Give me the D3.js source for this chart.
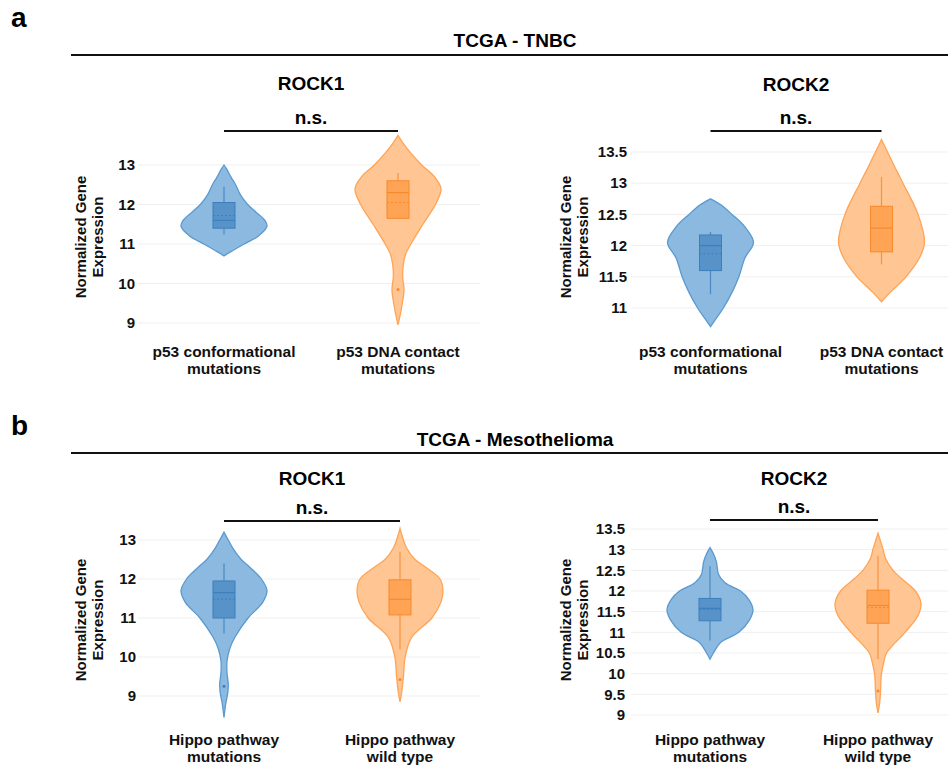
<!DOCTYPE html>
<html>
<head>
<meta charset="utf-8">
<script src="https://cdn.jsdelivr.net/npm/d3@7"></script>
<style>
  body { margin: 0; background: #fff; }
  svg { font-family: "Liberation Sans", Arial, sans-serif; font-weight: bold; }
</style>
</head>
<body>
<div id="chart"></div>
<script>
// categories (two-line labels)
const tnbcCategories = [['p53 conformational', 'mutations'], ['p53 DNA contact', 'mutations']];
const mesoCategories = [['Hippo pathway', 'mutations'], ['Hippo pathway', 'wild type']];

// y ticks
const tnbcRock1Ticks = [9, 10, 11, 12, 13];
const tnbcRock2Ticks = [11, 11.5, 12, 12.5, 13, 13.5];
const mesoRock1Ticks = [9, 10, 11, 12, 13];
const mesoRock2Ticks = [9, 9.5, 10, 10.5, 11, 11.5, 12, 12.5, 13, 13.5];

// violin outlines: [expression, relative density]
const tnbcRock1ConfDensity = [[10.7, 0], [10.8, 0.15], [11.0, 0.47], [11.2, 0.8], [11.45, 1.0], [11.6, 0.95], [11.8, 0.75], [12.0, 0.55], [12.25, 0.38], [12.5, 0.27], [12.7, 0.16], [12.9, 0.06], [13.0, 0]];
const tnbcRock1ContactDensity = [[8.95, 0], [9.2, 0.05], [9.5, 0.1], [9.85, 0.14], [10.15, 0.11], [10.45, 0.12], [10.75, 0.18], [11.0, 0.3], [11.5, 0.58], [12.0, 0.87], [12.4, 1.0], [12.7, 0.85], [13.0, 0.55], [13.3, 0.3], [13.55, 0.12], [13.75, 0]];
const tnbcRock2ConfDensity = [[10.7, 0], [10.85, 0.15], [11.0, 0.3], [11.25, 0.5], [11.5, 0.66], [11.8, 0.8], [12.05, 1.0], [12.3, 0.8], [12.5, 0.5], [12.65, 0.25], [12.75, 0]];
const tnbcRock2ContactDensity = [[11.1, 0], [11.25, 0.2], [11.5, 0.57], [11.8, 0.88], [12.05, 1.0], [12.5, 0.85], [13.0, 0.5], [13.3, 0.28], [13.5, 0.14], [13.7, 0]];
const mesoRock1MutDensity = [[8.45, 0], [8.8, 0.04], [9.1, 0.09], [9.3, 0.1], [9.6, 0.07], [9.9, 0.07], [10.2, 0.13], [10.5, 0.25], [11.0, 0.56], [11.4, 0.9], [11.7, 1.0], [12.0, 0.87], [12.3, 0.6], [12.5, 0.4], [12.8, 0.2], [13.0, 0.1], [13.2, 0]];
const mesoRock1WtDensity = [[8.85, 0], [9.1, 0.04], [9.5, 0.08], [10.0, 0.12], [10.5, 0.27], [11.0, 0.74], [11.4, 0.95], [11.7, 1.0], [12.0, 0.93], [12.3, 0.6], [12.5, 0.35], [12.8, 0.15], [13.0, 0.08], [13.3, 0]];
const mesoRock2MutDensity = [[10.35, 0], [10.5, 0.08], [10.75, 0.24], [11.0, 0.67], [11.3, 0.92], [11.55, 1.0], [11.8, 0.9], [12.0, 0.71], [12.2, 0.35], [12.4, 0.2], [12.7, 0.15], [12.9, 0.08], [13.05, 0]];
const mesoRock2WtDensity = [[9.05, 0], [9.3, 0.04], [9.6, 0.06], [10.0, 0.08], [10.3, 0.14], [10.5, 0.2], [11.0, 0.63], [11.4, 0.93], [11.7, 1.0], [12.0, 0.87], [12.3, 0.55], [12.5, 0.35], [12.8, 0.17], [13.0, 0.12], [13.2, 0.06], [13.4, 0]];

// box stats: [lower whisker, q1, median, q3, upper whisker, mean, outlier]
const tnbcRock1ConfBox = [11.25, 11.4, 11.6, 12.05, 12.45, 11.72, null];
const tnbcRock1ContactBox = [11.65, 11.65, 12.3, 12.6, 12.8, 12.05, 9.85];
const tnbcRock2ConfBox = [11.22, 11.6, 12.0, 12.17, 12.22, 11.87, null];
const tnbcRock2ContactBox = [11.7, 11.9, 12.28, 12.63, 13.1, 12.28, null];
const mesoRock1MutBox = [10.6, 11.0, 11.65, 11.95, 12.4, 11.48, 9.25];
const mesoRock1WtBox = [10.2, 11.08, 11.48, 11.98, 12.7, 11.48, 9.42];
const mesoRock2MutBox = [10.8, 11.28, 11.58, 11.82, 12.6, 11.55, null];
const mesoRock2WtBox = [10.35, 11.22, 11.65, 12.02, 12.85, 11.6, 9.58];

const colors = [
  { fill: '#8cb9df', stroke: '#5a9ad0', box: '#5793c9', boxStroke: '#3d7fbd' },
  { fill: '#ffc592', stroke: '#ffa456', box: '#ffa355', boxStroke: '#f58a2e' }
];

const charts = [
  { gene: 'ROCK1', cats: tnbcCategories, ticks: tnbcRock1Ticks, dens: [tnbcRock1ConfDensity, tnbcRock1ContactDensity], box: [tnbcRock1ConfBox, tnbcRock1ContactBox],
    band: [137, 485], yPix: [323, 165], grid: [138, 480], tickX: 135, ylabX: [86, 103], ylabY: 237, titleY: 90, nsY: 131, labY: 357 },
  { gene: 'ROCK2', cats: tnbcCategories, ticks: tnbcRock2Ticks, dens: [tnbcRock2ConfDensity, tnbcRock2ContactDensity], box: [tnbcRock2ConfBox, tnbcRock2ContactBox],
    band: [625, 967], yPix: [308, 152], grid: [631, 948], tickX: 627, ylabX: [571, 588], ylabY: 237, titleY: 91, nsY: 131, labY: 357 },
  { gene: 'ROCK1', cats: mesoCategories, ticks: mesoRock1Ticks, dens: [mesoRock1MutDensity, mesoRock1WtDensity], box: [mesoRock1MutBox, mesoRock1WtBox],
    band: [136, 488], yPix: [696, 540], grid: [138, 480], tickX: 136, ylabX: [86, 103], ylabY: 620, titleY: 485, nsY: 521, labY: 745 },
  { gene: 'ROCK2', cats: mesoCategories, ticks: mesoRock2Ticks, dens: [mesoRock2MutDensity, mesoRock2WtDensity], box: [mesoRock2MutBox, mesoRock2WtBox],
    band: [626, 962], yPix: [715, 529], grid: [631, 948], tickX: 625, ylabX: [571, 588], ylabY: 620, titleY: 485, nsY: 520, labY: 745 }
];

const width = 948, height = 767;
const svg = d3.select('#chart').append('svg')
  .attr('width', width)
  .attr('height', height);

// panel letters and headers
[['a', 27, 'TCGA - TNBC', 47, 55], ['b', 435, 'TCGA - Mesothelioma', 446, 453]].forEach(([letter, ly, title, ty, lineY]) => {
  svg.append('text').attr('x', 11).attr('y', ly).style('font-size', '28px').text(letter);
  svg.append('text').attr('x', 515).attr('y', ty).attr('text-anchor', 'middle')
    .style('font-size', '19px').text(title);
  svg.append('line').attr('x1', 71).attr('x2', 948).attr('y1', lineY).attr('y2', lineY)
    .attr('stroke', '#111').attr('stroke-width', 1.8);
});

const w = d3.scaleLinear().domain([0, 1]).range([0, 43]);

charts.forEach(c => {
  const g = svg.append('g');
  const labels = c.cats.map(d => d.join(' '));
  const x = d3.scaleBand().domain(labels).range(c.band);
  const cx = i => x(labels[i]) + x.bandwidth() / 2;
  const y = d3.scaleLinear().domain([c.ticks[0], c.ticks[c.ticks.length - 1]]).range(c.yPix);

  // gridlines + tick labels
  g.selectAll('.grid').data(c.ticks).join('line')
    .attr('x1', c.grid[0]).attr('x2', c.grid[1])
    .attr('y1', d => y(d)).attr('y2', d => y(d))
    .attr('stroke', '#efefef').attr('stroke-width', 1);
  g.selectAll('.tick').data(c.ticks).join('text')
    .attr('x', c.tickX).attr('y', d => y(d)).attr('dy', '0.35em')
    .attr('text-anchor', 'end').style('font-size', '15px').attr('fill', '#111')
    .text(d => d);

  // y title
  const yl = g.append('g').attr('transform', `translate(0,${c.ylabY}) rotate(-90)`);
  ['Normalized Gene', 'Expression'].forEach((t, i) => {
    yl.append('text').attr('x', 0).attr('y', c.ylabX[i]).attr('text-anchor', 'middle')
      .style('font-size', '15px').attr('fill', '#111').text(t);
  });

  // gene title and n.s. bracket
  g.append('text').attr('x', (cx(0) + cx(1)) / 2).attr('y', c.titleY).attr('text-anchor', 'middle')
    .style('font-size', '19px').text(c.gene);
  g.append('line').attr('x1', cx(0)).attr('x2', cx(1)).attr('y1', c.nsY).attr('y2', c.nsY)
    .attr('stroke', '#111').attr('stroke-width', 1.8);
  g.append('text').attr('x', (cx(0) + cx(1)) / 2).attr('y', c.nsY - 7).attr('text-anchor', 'middle')
    .style('font-size', '19px').text('n.s.');

  // category labels
  c.cats.forEach((lines, i) => {
    lines.forEach((t, j) => {
      g.append('text').attr('x', cx(i)).attr('y', c.labY + j * 17).attr('text-anchor', 'middle')
        .style('font-size', '15.5px').attr('fill', '#111').text(t);
    });
  });

  // violins
  c.dens.forEach((dens, i) => {
    const col = colors[i];
    const center = cx(i);
    const area = d3.area()
      .y(d => y(d[0]))
      .x0(d => center - w(d[1]))
      .x1(d => center + w(d[1]))
      .curve(d3.curveCatmullRom.alpha(0.5));
    g.append('path').datum(dens).attr('d', area)
      .attr('fill', col.fill).attr('stroke', col.stroke).attr('stroke-width', 1.3);

    const [lo, q1, med, q3, hi, mean, out] = c.box[i];
    g.append('line').attr('x1', center).attr('x2', center).attr('y1', y(lo)).attr('y2', y(hi))
      .attr('stroke', col.boxStroke).attr('stroke-width', 1.2).attr('opacity', 0.8);
    g.append('rect').attr('x', center - 11).attr('width', 22)
      .attr('y', y(q3)).attr('height', y(q1) - y(q3))
      .attr('fill', col.box).attr('stroke', col.boxStroke).attr('stroke-width', 1);
    g.append('line').attr('x1', center - 11).attr('x2', center + 11).attr('y1', y(med)).attr('y2', y(med))
      .attr('stroke', col.boxStroke).attr('stroke-width', 1.2);
    if (mean !== med) {
      g.append('line').attr('x1', center - 11).attr('x2', center + 11).attr('y1', y(mean)).attr('y2', y(mean))
        .attr('stroke', col.boxStroke).attr('stroke-width', 1).attr('stroke-dasharray', '2,2');
    }
    if (out !== null) {
      g.append('circle').attr('cx', center).attr('cy', y(out)).attr('r', 1.5).attr('fill', col.boxStroke);
    }
  });
});
</script>
</body>
</html>
